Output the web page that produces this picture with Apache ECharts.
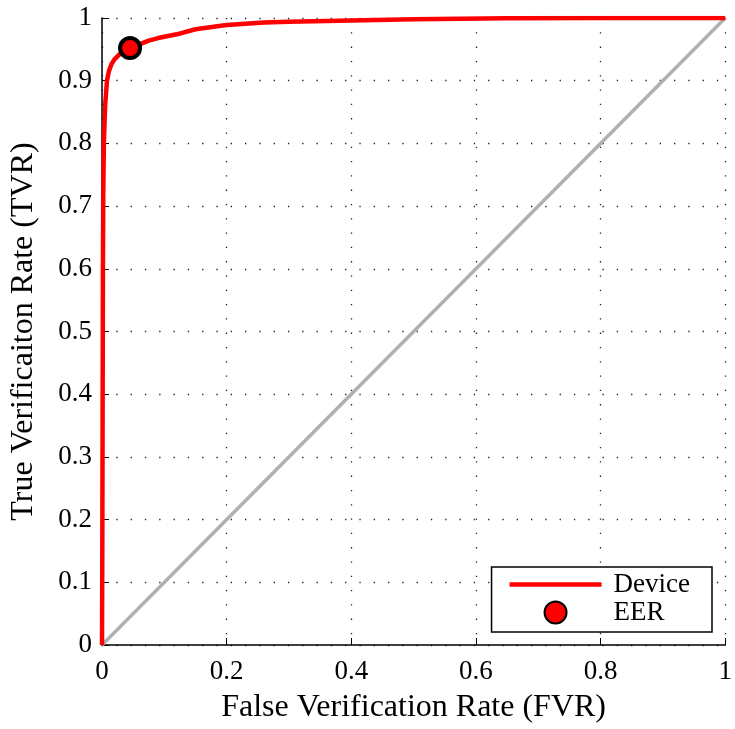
<!DOCTYPE html>
<html><head><meta charset="utf-8">
<script src="https://cdn.jsdelivr.net/npm/echarts@6/dist/echarts.min.js"></script>
<style>html,body{margin:0;padding:0;background:#fff}#c{width:735px;height:729px}</style>
</head><body><div id="c"></div>
<script>
const fvr = [0, 0.0005, 0.001, 0.0015, 0.002, 0.003, 0.005, 0.008, 0.011, 0.015, 0.02, 0.03, 0.045, 0.06, 0.075, 0.09, 0.12, 0.15, 0.2, 0.26, 0.3, 0.4, 0.5, 0.65, 0.8, 1];
const tvr = [0, 0.15, 0.38, 0.6, 0.72, 0.8, 0.86, 0.9, 0.915, 0.926, 0.934, 0.944, 0.952, 0.958, 0.964, 0.968, 0.974, 0.982, 0.989, 0.993, 0.994, 0.996, 0.998, 0.9995, 1, 1];
const eer = [0.045, 0.952];
const chance = [[0, 0], [1, 1]];
const xTicks = [0, 0.2, 0.4, 0.6, 0.8, 1];
const yTicks = [0, 0.1, 0.2, 0.3, 0.4, 0.5, 0.6, 0.7, 0.8, 0.9, 1];

const font = "'Liberation Serif', 'DejaVu Serif', serif";
const chart = echarts.init(document.getElementById('c'));
const gridLine = {show: true, lineStyle: {color: '#222', width: 1.3, type: [1.3, 13]}};
chart.setOption({
  animation: false,
  textStyle: {fontFamily: font},
  grid: {left: 101, right: 8, top: 18, bottom: 84},
  xAxis: {
    type: 'value', min: 0, max: 1, interval: 0.2,
    name: 'False Verification Rate (FVR)', nameLocation: 'middle', nameGap: 47,
    nameTextStyle: {fontFamily: font, fontSize: 32, color: '#000'},
    axisLine: {lineStyle: {color: '#000', width: 1.5}},
    axisTick: {inside: true, length: 7, lineStyle: {color: '#000'}},
    axisLabel: {fontFamily: font, fontSize: 27, color: '#000', margin: 13,
      formatter: v => String(+v.toFixed(1))},
    splitLine: gridLine
  },
  yAxis: {
    type: 'value', min: 0, max: 1, interval: 0.1,
    name: 'True Verificaiton Rate (TVR)', nameLocation: 'middle', nameGap: 62,
    nameTextStyle: {fontFamily: font, fontSize: 32, color: '#000'},
    axisLine: {lineStyle: {color: '#000', width: 1.5}},
    axisTick: {inside: true, length: 7, lineStyle: {color: '#000'}},
    axisLabel: {fontFamily: font, fontSize: 27, color: '#000', margin: 10,
      formatter: v => String(+v.toFixed(1))},
    splitLine: gridLine
  },
  legend: {
    orient: 'vertical', right: 23, bottom: 97,
    backgroundColor: '#fff', borderColor: '#000', borderWidth: 1.5,
    padding: [4, 22, 6, 18], itemGap: 1, itemWidth: 92, itemHeight: 22,
    textStyle: {fontFamily: font, fontSize: 27, lineHeight: 27, color: '#000', padding: [0, 0, 0, 7]},
    data: [
      {name: 'Device', icon: 'path://M0,9 L92,9 L92,13.5 L0,13.5 Z', itemStyle: {color: '#ff0000', opacity: 1}},
      {name: 'EER'}
    ]
  },
  series: [
    {name: 'chance', type: 'line', data: chance, symbol: 'none', silent: true,
      lineStyle: {color: '#b0b0b0', width: 3.5}, z: 1},
    {name: 'Device', type: 'line', data: fvr.map((x, i) => [x, tvr[i]]), symbol: 'none', smooth: false,
      lineStyle: {color: '#ff0000', width: 4.5}, itemStyle: {color: '#ff0000'}, z: 3},
    {name: 'EER', type: 'scatter', data: [eer], symbol: 'circle', symbolSize: 20,
      itemStyle: {color: '#ff0000', borderColor: '#000', borderWidth: 4, opacity: 1}, z: 4}
  ]
});
</script></body></html>
